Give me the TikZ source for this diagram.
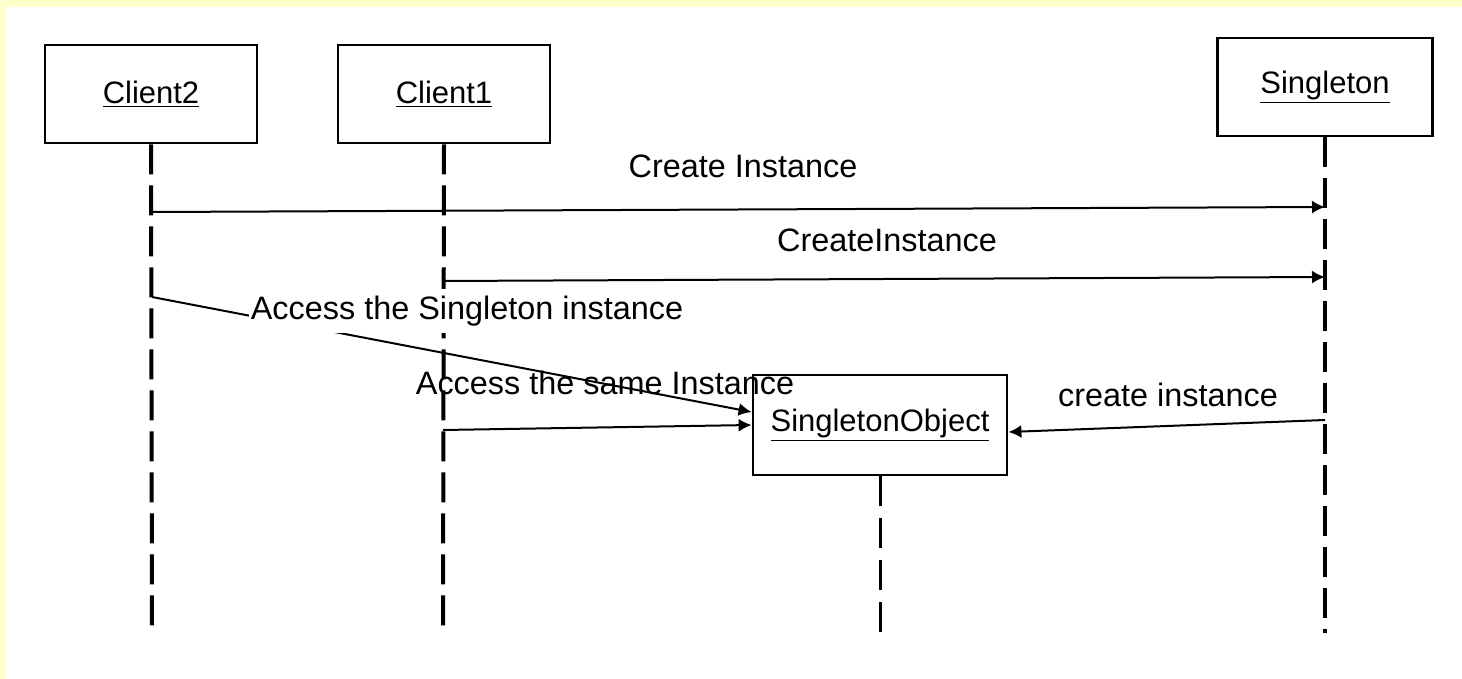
\documentclass[tikz,border=0pt]{standalone}
\usepackage{fontspec}
\setmainfont{Liberation Sans}
\usepackage{xcolor}
\usepackage{tikz}
\usetikzlibrary{arrows.meta, positioning, calc}
\definecolor{pageyellow}{HTML}{FFFFCC}

\begin{document}
\begin{tikzpicture}[
    x=0.5pt, y=-0.5pt,
    obj/.style={draw, line width=1.4pt, minimum width=106pt, minimum height=49pt, inner sep=0pt, font=\fontsize{15.5}{18}\selectfont},
    lifeline/.style={line width=2pt, dash pattern=on 15pt off 5.5pt},
    msg/.style={line width=1pt, -{Latex[length=6.5pt,width=6.5pt]}},
    lbl/.style={inner sep=1pt, font=\fontsize{16.2}{19}\selectfont}
]
    \fill[pageyellow] (0,0) rectangle (1462,679);
    \fill[white] (6,7) rectangle (1462,679);
    \useasboundingbox (0,0) rectangle (1462,679);

    \node[obj] (c2) at (151,94) {\underline{Client2}};
    \node[obj] (c1) at (444,94) {\underline{Client1}};
    \node[obj, minimum width=107.5pt] (st) at (1325,87) {\underline{Singleton}};
    \node[obj, minimum width=127pt, minimum height=50pt] (so) at (880,425) {\underline{SingletonObject}};

    \coordinate (c2end) at (152,633);
    \coordinate (c1end) at (443,633);
    \coordinate (stend) at (1325,633);
    \coordinate (soend) at (880,632);
    \draw[lifeline] (c2.south) -- (c2end);
    \draw[lifeline] (c1.south) -- (c1end);
    \draw[lifeline] (st.south) -- (stend);
    \draw[line width=1.5pt, dash pattern=on 15pt off 6pt] (so.south) -- (soend);

    \coordinate (c2m1) at (152,212);
    \coordinate (stm1) at (1325,207);
    \coordinate (c1m2) at (443,281);
    \coordinate (stm2) at (1325,277);
    \coordinate (c2m3) at (152,297);
    \coordinate (c1m4) at (443,430);
    \coordinate (stm5) at (1325,420);

    \node[lbl] (l1) at (743,166) {Create Instance};
    \draw[msg] (c2m1) -- (stm1);
    \node[lbl] (l2) at (887,240) {CreateInstance};
    \draw[msg] (c1m2) -- (stm2);
    \node[lbl] (l4) at (605,383) {Access the same Instance};
    \draw[msg] (c2m3) -- ([yshift=6.5pt]so.west);
    \node[lbl, fill=white, inner ysep=3.5pt] (l3) at (467,311) {Access the Singleton instance};
    \draw[msg] (c1m4) -- (so.west);
    \node[lbl] (l5) at (1168,395) {create instance};
    \draw[msg] (stm5) -- ([yshift=-3.5pt]so.east);
\end{tikzpicture}
\end{document}
